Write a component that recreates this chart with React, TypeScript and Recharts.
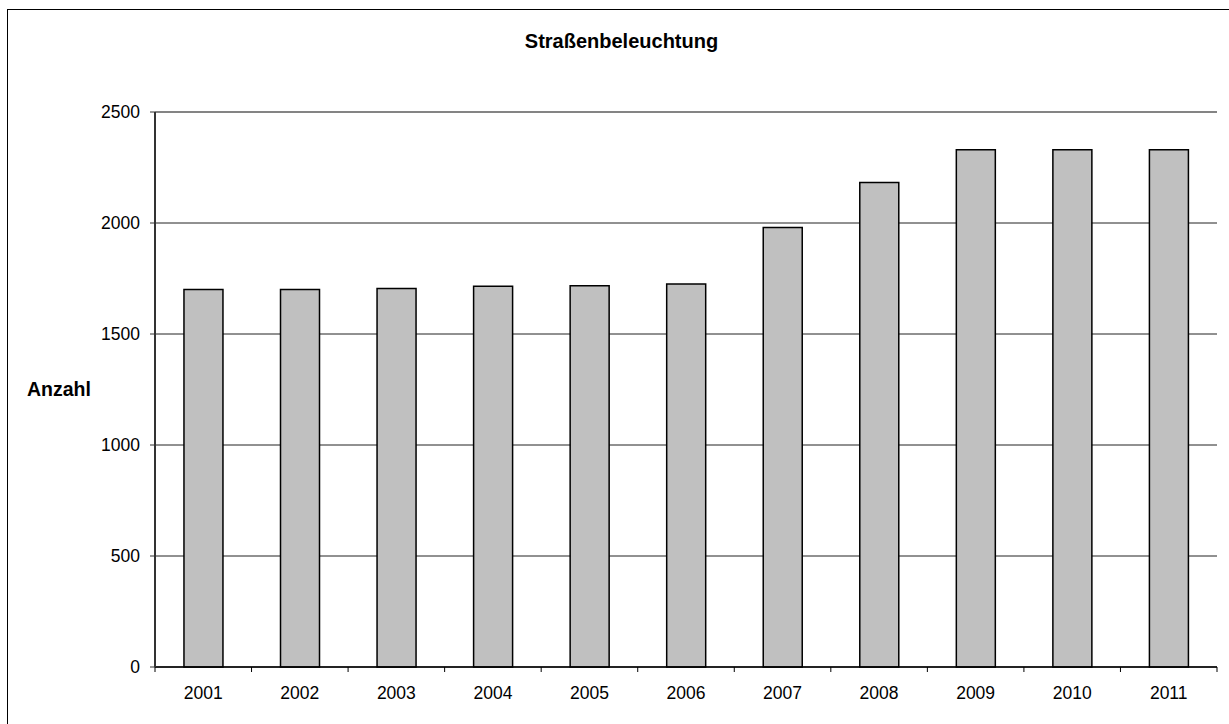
import { BarChart, Bar, XAxis, YAxis, CartesianGrid, ReferenceLine, Label } from 'recharts';

const years = ['2001', '2002', '2003', '2004', '2005', '2006', '2007', '2008', '2009', '2010', '2011'];
const counts = [1700, 1700, 1705, 1715, 1717, 1725, 1980, 2182, 2330, 2330, 2330];
const yTicks = [0, 500, 1000, 1500, 2000, 2500];

const data = years.map((year, i) => ({ year, count: counts[i] }));

const FONT = '"Liberation Sans", Arial, sans-serif';

// x tick: label in the middle, tick marks on the category boundaries
function YearTick(props: any) {
  const { x, y, payload, index, visibleTicksCount } = props;
  const half = payload?.offset ?? 0;
  const axisY = y - 20;
  const isLast = index === visibleTicksCount - 1;
  return (
    <g>
      <line x1={x - half} x2={x - half} y1={axisY} y2={axisY + 5} stroke="#000" strokeWidth={1} />
      {isLast && <line x1={x + half} x2={x + half} y1={axisY} y2={axisY + 5} stroke="#000" strokeWidth={1} />}
      <text x={x} y={y} dy="0.71em" textAnchor="middle" fill="#000" fontSize={17.5} fontFamily={FONT}>
        {payload.value}
      </text>
    </g>
  );
}

export default function App() {
  return (
    <div style={{ position: 'fixed', inset: 0, overflow: 'hidden', background: '#fff' }}>
      <div
        style={{
          position: 'absolute',
          left: 7,
          top: 9,
          width: 1229,
          height: 740,
          border: '1px solid #000',
          boxSizing: 'border-box',
        }}
      />
      <div
        style={{
          position: 'absolute',
          left: 7,
          top: 31,
          width: 1229,
          textAlign: 'center',
          fontFamily: FONT,
          fontWeight: 'bold',
          fontSize: 20,
          lineHeight: '20px',
          color: '#000',
        }}
      >
        Straßenbeleuchtung
      </div>
      <div style={{ position: 'absolute', left: 0, top: 0 }}>
        <BarChart
          width={1229}
          height={724}
          data={data}
          margin={{ top: 112, right: 12, left: 20, bottom: 27 }}
          barCategoryGap="30%"
        >
          <CartesianGrid vertical={false} stroke="#222" strokeWidth={1} />
          <ReferenceLine y={2500} stroke="#808080" strokeWidth={1.5} />
          <XAxis
            dataKey="year"
            height={30}
            tickLine={false}
            tickSize={5}
            tickMargin={15}
            axisLine={{ stroke: '#000', strokeWidth: 1.5 }}
            tick={<YearTick />}
            interval={0}
          />
          <YAxis
            width={135}
            domain={[0, 2500]}
            ticks={yTicks}
            interval={0}
            tickSize={5}
            tickMargin={10}
            axisLine={{ stroke: '#333', strokeWidth: 2 }}
            tickLine={{ stroke: '#333' }}
            tick={{ fill: '#000', fontSize: 17.5, fontFamily: FONT }}
          >
            <Label
              value="Anzahl"
              position="insideLeft"
              offset={7}
              style={{ fontFamily: FONT, fontWeight: 'bold', fontSize: 19.5, fill: '#000' }}
            />
          </YAxis>
          <YAxis
            yAxisId="right"
            orientation="right"
            width={0}
            domain={[0, 2500]}
            tick={false}
            tickLine={false}
            axisLine={{ stroke: '#808080', strokeWidth: 1.5 }}
          />
          <Bar
            dataKey="count"
            fill="#c0c0c0"
            stroke="#000"
            strokeWidth={1.5}
            isAnimationActive={false}
          />
        </BarChart>
      </div>
    </div>
  );
}
